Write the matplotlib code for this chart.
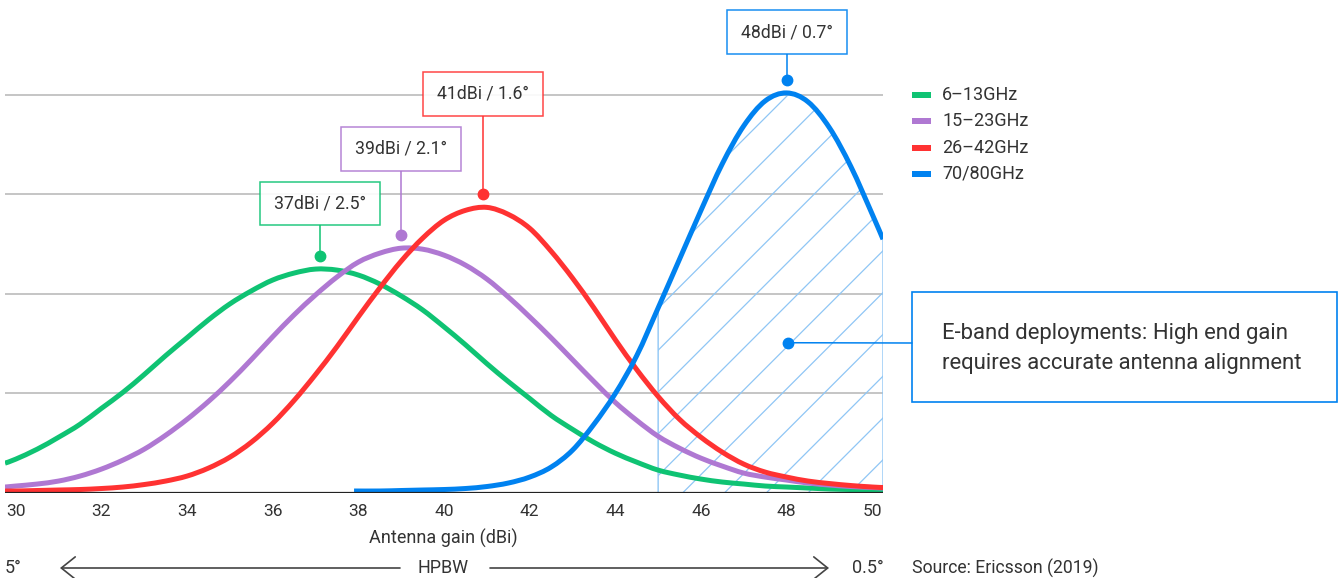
import numpy as np
import matplotlib
matplotlib.use("Agg")
import matplotlib.pyplot as plt
from matplotlib.path import Path
from matplotlib.patches import Rectangle, FancyArrowPatch, ConnectionPatch, PathPatch

plt.rcParams['font.family'] = ['Roboto', 'DejaVu Sans']

# antenna gain samples (dBi)
gain = [29.75, 30.0, 30.5, 31.0, 31.5, 32.0, 32.5, 33.0, 33.5, 34.0, 34.5,
        35.0, 35.5, 36.0, 36.5, 37.0, 37.5, 38.0, 38.5, 39.0, 39.5, 40.0,
        40.5, 41.0, 41.5, 42.0, 42.5, 43.0, 43.5, 44.0, 44.5, 45.0, 45.5,
        46.0, 46.5, 47.0, 47.5, 48.0, 48.5, 49.0, 49.5, 50.0, 50.25]

band_6_13 = [0.30, 0.34, 0.44, 0.56, 0.69, 0.85, 1.01, 1.19, 1.38, 1.56, 1.74,
             1.90, 2.03, 2.14, 2.21, 2.25, 2.24, 2.19, 2.10, 1.98, 1.84, 1.67,
             1.49, 1.30, 1.12, 0.95, 0.78, 0.64, 0.51, 0.40, 0.31, 0.23, 0.18,
             0.14, 0.11, 0.09, 0.07, 0.06, 0.05, 0.04, 0.035, 0.03, 0.03]

band_15_23 = [0.06, 0.07, 0.09, 0.12, 0.17, 0.24, 0.33, 0.44, 0.58, 0.74, 0.92,
              1.12, 1.34, 1.57, 1.79, 1.99, 2.17, 2.32, 2.41, 2.46, 2.45, 2.39,
              2.29, 2.15, 1.97, 1.77, 1.56, 1.34, 1.12, 0.91, 0.73, 0.57, 0.45,
              0.35, 0.27, 0.20, 0.16, 0.13, 0.10, 0.08, 0.065, 0.055, 0.05]

band_26_42 = [0.02, 0.02, 0.025, 0.03, 0.035, 0.045, 0.06, 0.085, 0.12, 0.17, 0.25,
              0.36, 0.51, 0.70, 0.93, 1.19, 1.47, 1.77, 2.06, 2.33, 2.56, 2.74,
              2.84, 2.87, 2.80, 2.66, 2.43, 2.16, 1.86, 1.54, 1.24, 0.97, 0.74,
              0.56, 0.41, 0.29, 0.21, 0.16, 0.12, 0.095, 0.075, 0.06, 0.055]

gain_eband = [37.9, 38.5, 39.0, 39.5, 40.0, 40.5, 41.0, 41.5, 42.0, 42.5, 43.0,
              43.5, 44.0, 44.5, 45.0, 45.5, 46.0, 46.5, 47.0, 47.5, 48.0, 48.5,
              49.0, 49.5, 50.0, 50.25]
band_70_80 = [0.02, 0.02, 0.025, 0.03, 0.035, 0.045, 0.065, 0.10, 0.16, 0.26, 0.43,
              0.69, 1.00, 1.38, 1.86, 2.35, 2.84, 3.31, 3.69, 3.94, 4.02, 3.93,
              3.67, 3.28, 2.80, 2.55]

names = ['6–13GHz', '15–23GHz', '26–42GHz', '70/80GHz']
colors = ['#0FC373', '#AF78D2', '#FF3232', '#0082F0']
peak_labels = ['37dBi / 2.5°', '39dBi / 2.1°', '41dBi / 1.6°', '48dBi / 0.7°']
peak_gain = [37.1, 39.0, 40.9, 48.0]
label_y = [2.91, 3.46, 4.01, 4.63]   # box centres
xticks = list(range(30, 51, 2))
eband_start = 45.0

W, H = 1338, 578
TXT = '#333333'


def fx(p):
    return p / W


def fy(p):
    return 1 - p / H


def curve_verts(xs, ys, start=0):
    # smooth (catmull-rom style) bezier through the sampled points
    pts = np.column_stack([xs, ys]).astype(float)
    n = len(pts)
    verts = [pts[start]]
    codes = [Path.MOVETO]
    for i in range(start, n - 1):
        p0 = pts[i - 1] if i > 0 else pts[i]
        p1, p2 = pts[i], pts[i + 1]
        p3 = pts[i + 2] if i + 2 < n else pts[i + 1]
        verts += [p1 + (p2 - p0) / 6, p2 - (p3 - p1) / 6, p2]
        codes += [Path.CURVE4] * 3
    return verts, codes


fig = plt.figure(figsize=(W / 100, H / 100), dpi=100)
ax = fig.add_axes([fx(5), fy(493), (883 - 5) / W, (493 - 80) / H])
ax.set_xlim(29.75, 50.25)
ax.set_ylim(0, 4.15)
for s in ax.spines.values():
    s.set_visible(False)
ax.set_yticks([])
ax.set_xticks(xticks)
ax.tick_params(axis='x', length=0, pad=8, labelsize=12.5, labelcolor=TXT)

for g in [1, 2, 3, 4]:
    ax.axhline(g, color='#b5b5b5', lw=1.1, zorder=0)
ax.axhline(0, color='#222222', lw=1.6, zorder=4)

series = [(gain, band_6_13), (gain, band_15_23), (gain, band_26_42),
          (gain_eband, band_70_80)]

# hatched E-band region under the 70/80GHz curve
i0 = gain_eband.index(eband_start)
v, c = curve_verts(gain_eband, band_70_80, start=i0)
v += [(gain_eband[-1], 0), (eband_start, 0), (eband_start, 0)]
c += [Path.LINETO, Path.LINETO, Path.CLOSEPOLY]
region = PathPatch(Path(v, c), facecolor='none', edgecolor='#8fc6f5',
                   lw=1.0, zorder=1.5)
ax.add_patch(region)
fig.canvas.draw()
p0 = ax.transData.transform((0, 0))
p1 = ax.transData.transform((1, 1))
ratio = (p1[1] - p0[1]) / (p1[0] - p0[0])  # dx(data) per dy(data) for 45 deg
for b in np.arange(45.57 - 0.976 * 12, 50.3, 0.976):
    ln, = ax.plot([b, b + 4.2 * ratio], [0, 4.2], color='#8fc6f5',
                  lw=0.9, zorder=1.5)
    ln.set_clip_path(region)

for (xs, ys), col in zip(series, colors):
    v, c = curve_verts(xs, ys)
    ax.add_patch(PathPatch(Path(v, c), facecolor='none', edgecolor=col, lw=3.6,
                           zorder=3, capstyle='butt', joinstyle='round'))

# peak call-outs
bw, bh = 2.8, 0.44
for (xs, ys), col, lab, px, ly in zip(series, colors, peak_labels, peak_gain, label_y):
    my = max(ys) + 0.13
    ax.plot([px, px], [my, ly - bh / 2], color=col, lw=1.1, zorder=5, clip_on=False)
    ax.plot([px], [my], 'o', color=col, ms=7.5, zorder=6, clip_on=False)
    ax.add_patch(Rectangle((px - bw / 2, ly - bh / 2), bw, bh, facecolor='white',
                           edgecolor=col, lw=1.1, alpha=0.9, zorder=7, clip_on=False))
    ax.text(px, ly, lab, ha='center', va='center', fontsize=12.7, color=TXT,
            zorder=8, clip_on=False)

# legend
for i, (n, col) in enumerate(zip(names, colors)):
    yc = 95 + i * 26.3
    fig.add_artist(Rectangle((fx(912), fy(yc + 3)), 19 / W, 6 / H,
                             transform=fig.transFigure, color=col, lw=0))
    fig.text(fx(942), fy(yc), n, ha='left', va='center', fontsize=13, color=TXT)

# E-band note
fig.add_artist(Rectangle((fx(912), fy(402)), (1337 - 912) / W, (402 - 292) / H,
                         transform=fig.transFigure, facecolor='white',
                         edgecolor='#0082F0', lw=1.2))
fig.text(fx(942), fy(333), 'E-band deployments: High end gain', ha='left',
         va='center', fontsize=15.9, color=TXT)
fig.text(fx(942), fy(363), 'requires accurate antenna alignment', ha='left',
         va='center', fontsize=15.9, color=TXT)
ax.plot([48.03], [1.51], 'o', color='#0082F0', ms=7.5, zorder=6)
fig.add_artist(ConnectionPatch(xyA=(48.03, 1.51), coordsA=ax.transData,
                               xyB=(fx(912), fy(343)), coordsB=fig.transFigure,
                               color='#0082F0', lw=1.1))

# axis label and HPBW row
fig.text(fx(443), fy(538), 'Antenna gain (dBi)', ha='center', va='center',
         fontsize=13, color=TXT)
fig.text(fx(5), fy(568), '5°', ha='left', va='center', fontsize=13, color=TXT)
fig.text(fx(443), fy(568), 'HPBW', ha='center', va='center', fontsize=13, color=TXT)
fig.text(fx(884), fy(568), '0.5°', ha='right', va='center', fontsize=13, color=TXT)
fig.text(fx(912), fy(568), 'Source: Ericsson (2019)', ha='left', va='center',
         fontsize=12.7, color=TXT)
for a, b in [((400, 568), (60, 568)), ((490, 568), (829, 568))]:
    fig.add_artist(FancyArrowPatch((fx(a[0]), fy(a[1])), (fx(b[0]), fy(b[1])),
                                   transform=fig.transFigure,
                                   arrowstyle='->,head_length=0.5,head_width=0.4',
                                   mutation_scale=20, color='#444444', lw=1.2,
                                   shrinkA=0, shrinkB=0))

fig.savefig('out.png', dpi=100)
